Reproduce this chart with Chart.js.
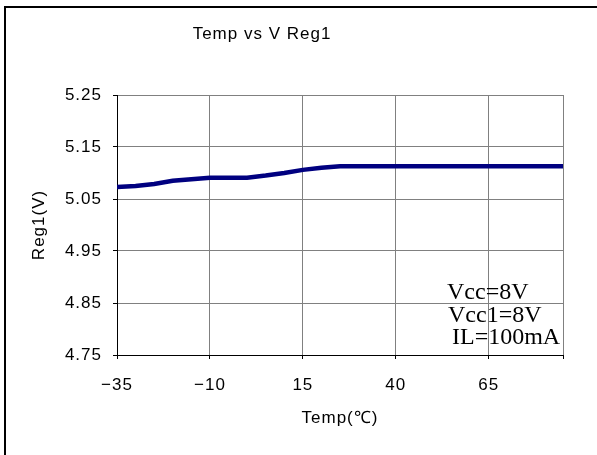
<!DOCTYPE html>
<html>
<head>
<meta charset="utf-8">
<script src="https://cdn.jsdelivr.net/npm/chart.js@4"></script>
<style>
  html, body { margin: 0; padding: 0; background: #fff; }
  #wrap { position: relative; width: 597px; height: 455px; overflow: hidden; }
  #frame { position: absolute; left: 4px; top: 6px; width: 700px; height: 600px; border-left: 2px solid #000; border-top: 2px solid #000; }
  #chart { position: absolute; left: 0; top: 0; }
</style>
</head>
<body>
<div id="wrap">
  <div id="frame"></div>
  <canvas id="chart" width="597" height="455"></canvas>
</div>
<script>
// chart texts
const chartTitle = 'Temp vs V Reg1';
const xTitle = 'Temp(℃)';
const yTitle = 'Reg1(V)';
const noteLines = ['Vcc=8V', 'Vcc1=8V', 'IL=100mA'];

// data
const temps = [-35, -30, -25, -20, -15, -10, -5, 0, 5, 10, 15, 20, 25, 30, 40, 50, 60, 70, 85];
const reg1 = [5.073, 5.075, 5.079, 5.085, 5.088, 5.091, 5.091, 5.091, 5.095, 5.100, 5.106, 5.110, 5.113, 5.113, 5.113, 5.113, 5.113, 5.113, 5.113];

// axes
const xMin = -35;
const xMax = 85;
const xTickLabels = [-35, -10, 15, 40, 65];
const yMin = 4.75;
const yMax = 5.25;
const yTickLabels = [4.75, 4.85, 4.95, 5.05, 5.15, 5.25];

const sansFont = 'Liberation Sans';
const gridColor = '#808080';

// wide letter spacing like the original, plus title and condition note
const textPlugin = {
  id: 'texts',
  beforeDraw(chart) {
    chart.ctx.letterSpacing = '1px';
  },
  afterDraw(chart) {
    const ctx = chart.ctx;
    ctx.save();
    ctx.fillStyle = '#000';
    ctx.letterSpacing = '1px';
    ctx.font = `17px "${sansFont}"`;
    ctx.textAlign = 'center';
    ctx.textBaseline = 'middle';
    ctx.fillText(chartTitle, 262, 34);

    ctx.letterSpacing = '0px';
    ctx.font = '24px "Liberation Serif"';
    ctx.textAlign = 'left';
    ctx.textBaseline = 'alphabetic';
    const noteX = [447, 448, 452];
    const noteY = [299, 322, 344];
    noteLines.forEach((line, i) => ctx.fillText(line, noteX[i], noteY[i]));
    ctx.restore();
  },
};

const chart = new Chart(document.getElementById('chart'), {
  type: 'line',
  data: {
    datasets: [{
      data: temps.map((t, i) => ({ x: t, y: reg1[i] })),
      borderColor: '#000080',
      borderWidth: 4.5,
      pointRadius: 0,
      tension: 0,
      fill: false,
    }],
  },
  options: {
    responsive: false,
    animation: false,
    devicePixelRatio: 1,
    layout: { padding: { left: 0, right: 34, top: 95, bottom: 0 } },
    plugins: {
      legend: { display: false },
      tooltip: { enabled: false },
      title: { display: false },
    },
    scales: {
      x: {
        type: 'linear',
        min: xMin,
        max: xMax,
        afterBuildTicks: scale => {
          scale.ticks = [...xTickLabels, xMax].map(value => ({ value }));
        },
        afterFit: scale => { scale.height = 100; },
        ticks: {
          autoSkip: false,
          maxRotation: 0,
          padding: 16,
          color: '#000',
          font: { family: sansFont, size: 17 },
          callback: v => (xTickLabels.includes(v) ? String(v).replace('-', '\u2212') : ''),
        },
        grid: { color: gridColor, lineWidth: 1, tickLength: 4, tickColor: '#000' },
        border: { color: '#000', width: 1 },
        title: {
          display: true,
          text: xTitle,
          color: '#000',
          font: { family: sansFont, size: 17 },
          padding: { top: 0, bottom: 26 },
        },
      },
      y: {
        type: 'linear',
        min: yMin,
        max: yMax,
        afterBuildTicks: scale => {
          scale.ticks = yTickLabels.map(value => ({ value }));
        },
        afterFit: scale => { scale.width = 117; },
        ticks: {
          autoSkip: false,
          padding: 11,
          color: '#000',
          font: { family: sansFont, size: 17 },
          callback: v => v.toFixed(2),
        },
        grid: { color: gridColor, lineWidth: 1, tickLength: 4, tickColor: '#000' },
        border: { color: '#000', width: 1 },
        title: {
          display: true,
          text: yTitle,
          color: '#000',
          font: { family: sansFont, size: 17 },
          padding: { top: 29, bottom: 0 },
        },
      },
    },
  },
  plugins: [textPlugin],
});
</script>
</body>
</html>
